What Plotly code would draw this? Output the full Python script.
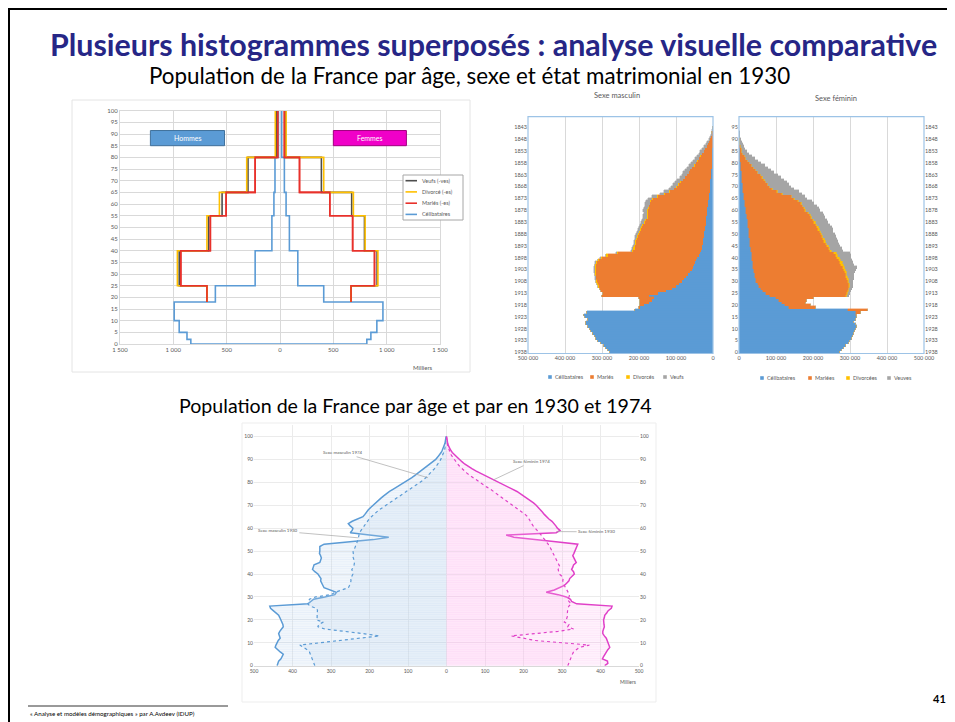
import plotly.graph_objects as go

W, H = 955, 722
OFF = 8  # page body margin offsets the figure by 8 px; compensate in layout positions
def px(x): return (x - OFF) / W
def py(y): return 1 - (y - OFF) / H

# ---------------- Chart 1 data (thousands, 1930, grouped ages) ----------------
c1_bounds = [0, 2, 5, 10, 18, 25, 40, 55, 65, 80, 100]
c1_m_celib = [836, 872, 945, 992, 606, 233, 76, 57, 47, 15]
c1_f_celib = [814, 852, 908, 965, 410, 167, 88, 57, 41, 16]
c1_bounds_ad = [18, 25, 40, 55, 65, 80, 100]
c1_m_maries = [685, 930, 653, 505, 233, 22]
c1_f_maries = [666, 886, 681, 467, 183, 41]
c1_m_veufs = [685, 945, 670, 543, 300, 35]
c1_f_veufs = [666, 910, 792, 672, 388, 52]
c1_m_div = [685, 962, 685, 568, 312, 44]
c1_f_div = [666, 918, 798, 688, 410, 57]
c1_xticks = [-1500, -1000, -500, 0, 500, 1000, 1500]
c1_xlabels = ["1 500", "1 000", "500", "0", "500", "1 000", "1 500"]
c1_names = ["Veufs (-ves)", "Divorcé (-es)", "Mariés (-es)", "Célibataires"]

# ---------------- Chart 2 data (thousands, by single age 0..95) ----------------
ages2 = list(range(96))
m_celib = [279,284,290,295,303,311,316,320,325,330,333,338,344,342,338,345,349,340,
           210,196,186,172,165,160,172,150,128,112,100,92,84,78,72,67,62,58,54,51,48,45,
           42,39,36,32,30,29,28,27,26,25,24,23,22,21,20,19,18,18,17,16,
           15,15,14,14,13,12,11,10,9,9,8,8,7,7,6,6,5,5,4,4,
           4,3,3,3,2,2,2,1,1,1,1,0,0,0,0,0]
m_maries = [0]*18 + [2,4,11,25,31,40,127,147,174,193,208,220,229,237,243,249,255,259,263,264,265,262,
           258,246,220,184,182,181,180,180,179,178,177,175,173,170,168,166,163,159,160,159,
           161,158,158,155,154,150,139,120,108,96,90,85,80,74,69,64,60,56,52,46,
           42,38,34,30,27,23,19,16,12,9,6,5,3,1.5,1,0.5]
m_div = [0]*23 + [0.3,0.5,0.5,1,1,1.5,1.5,2,2,2.5,2.5,2.5,3,3,3,3,3,
           3,3,3,3,3,3,3,3,3,3,3,3,3,3,3,2.5,2.5,2.5,2.5,2.5,
           2,2,2,2,2,2,2,1.5,1.5,1.5,1,1,1,1,1,1,1,1,1,1,
           1,1,1,1,1,0,0,0,0,0,0,0,0,0,0,0]
m_veufs = [0]*25 + [0.3,0.3,0.3,0.4,0.5,0.8,0.8,0.8,0.9,1,1.5,1.5,1.5,1.6,1.8,
           2,2,2.5,2.5,3,3,3.5,4,4,4.5,5,5.5,6,6.5,7,7.5,8,8.5,9,9.5,
           10,10.5,11,11.5,12,12.5,13,13,13,13.5,14,14,14,14,14,14,14,14,13,13,
           12,12,11,10,9,9,8,7,6,5,4,3,2,1.5,1,0.5]
f_celib = [272,278,283,290,296,301,305,308,311,314,316,318,315,312,316,318,
           316,315,295,135,125,115,108,101,83,73,65,59,53,50,47,45,44,42,41,40,39,38,37,36,
           35,34,34,33,32,31,30,30,29,28,27,26,26,25,24,23,23,22,21,20,
           19,18,17,16,15,14,13,13,12,11,11,10,9,9,8,7,7,6,6,5,
           5,4,4,3,3,2,2,1,1,1,0.5,0.3,0.2,0.2,0.1,0.1]
f_maries = [0]*16 + [4,15,54,74,70,65,77,101,207,220,229,237,244,246,247,247,246,246,245,243,242,239,237,234,
           231,228,224,213,210,206,204,201,199,196,194,192,188,186,183,180,176,173,170,167,
           160,158,155,151,145,134,129,103,92,79,72,68,64,59,55,52,44,39,34,29,
           25,21,16,13,9,7,5,4,3,2,1.5,0.7,0.4,0.2,0.1,0]
f_div = [0]*24 + [1,1,2,2,3,3,4,4,5,5,5,6,6,6,6,6,
           6,6,6,5,5,5,5,5,5,4,4,4,4,4,4,4,3,3,3,3,
           3,2,2,2,2,2,2,2,2,1,1,1,1,1,1,1,1,1,1,1,
           1,0,0,0,0,0,0,0,0,0,0,0,0,0,0,0]
f_veufs = [0]*23 + [1,5,6,6,7,7,9,11,14,16,19,23,27,31,29,29,30,
           32,34,36,31,31,31,31,31,31,34,34,33,35,35,34,34,35,34,36,36,
           38,38,36,34,34,34,34,52,55,57,57,56,55,53,49,45,43,41,38,34,
           29,27,24,20,16,12,10,9,7,5,4,3,2.4,1.6,0.8,0.4]
c2_ticks = [0, 100000, 200000, 300000, 400000, 500000]
c2_labels = ["0", "100 000", "200 000", "300 000", "400 000", "500 000"]
m_names = ["Célibataires", "Mariés", "Divorcés", "Veufs"]
f_names = ["Célibataires", "Mariées", "Divorcées", "Veuves"]

# ---------------- Chart 3 data (thousands, ages 0..100) ----------------
ages3 = list(range(101))
m1974 = [440,438,436,430,426,424,432,440,445,443,441,437,432,434,436,433,428,424,425,427,
         430,433,436,442,450,457,459,360,352,345,316,290,286,300,318,321,325,327,326,330,
         334,342,348,346,344,329,326,325,327,330,329,330,329,318,250,190,150,200,250,245,
         243,250,255,245,230,217,212,208,203,197,191,185,178,171,164,157,148,138,128,118,
         108,99,90,82,74,66,58,50,42,35,28,23,18,14,11,8,6,4,3,2,1]
m1930 = [342,344,346,349,351,353,356,362,370,381,329,278,226,174,217,269,316,334,332,320,
         338,336,337,336,335,337,355,360,358,356,340,300,290,270,255,252,250,248,249,246,
         243,244,246,241,239,239,240,242,244,242,243,239,236,234,232,230,229,227,226,222,
         218,214,210,206,201,195,189,182,175,166,157,148,139,130,120,111,102,93,84,75,
         66,60,54,48,42,36,31,27,22,18,15,12,9,7,5,4,3,2,1,1,0]
f1974 = [411,419,418,405,408,411,415,419,424,422,419,417,415,410,406,406,408,410,409,408,
         408,410,411,416,420,428,430,338,325,322,311,290,259,280,295,306,312,318,320,326,
         332,330,325,328,330,337,334,330,328,331,333,335,338,341,290,230,175,155,285,295,
         288,284,280,274,266,259,254,249,244,238,233,226,218,210,202,194,183,171,159,146,
         133,121,110,98,87,76,66,56,47,40,33,26,20,15,11,7,5,3,2,1,0]
f1930 = [315,317,319,322,324,327,330,338,345,371,290,230,200,168,230,290,330,315,318,306,
         311,313,315,314,315,315,318,324,318,315,318,320,316,312,310,306,304,302,303,300,
         293,292,290,295,292,289,287,284,282,279,276,272,268,264,260,255,251,246,241,235,
         229,225,221,217,214,211,204,196,188,180,172,164,156,148,141,133,123,114,104,95,
         85,77,69,61,53,46,40,34,29,24,20,16,12,9,7,5,3,2,1,1,0]
c3_xticks = [-500, -400, -300, -200, -100, 0, 100, 200, 300, 400, 500]
c3_xlabels = ["500", "400", "300", "200", "100", "0", "100", "200", "300", "400", "500"]

# ---------------- colours ----------------
BLUE = "#5B9BD5"; ORANGE = "#ED7D31"; YELLOW = "#FFC000"; GREY = "#A5A5A5"
RED = "#E8312B"; DARK = "#4D4D4D"; PINK = "#E040C8"
TXT = "#595959"; GRID = "#D9D9D9"
FONT = "Lato"

fig = go.Figure()

# ---------- Chart 1 : step lines ----------
def step_xy(bounds, vals, sign):
    xs = [sign * v for v in vals] + [sign * vals[-1]]
    return xs, list(bounds)

k = len(c1_m_celib)
bx = [-c1_m_celib[k - 1]] + [-c1_m_celib[i] for i in range(k - 2, -1, -1)] + list(c1_f_celib) + [c1_f_celib[-1]]
by = [c1_bounds[k]] + [c1_bounds[i + 1] for i in range(k - 2, -1, -1)] + [c1_bounds[i] for i in range(k)] + [c1_bounds[k]]
fig.add_trace(go.Scatter(x=bx, y=by, mode="lines", line=dict(color=BLUE, width=1.6, shape="vh"),
                         name=c1_names[3], xaxis="x", yaxis="y"))
series1 = [(c1_names[2], c1_m_maries, c1_f_maries, RED),
           (c1_names[0], c1_m_veufs, c1_f_veufs, DARK),
           (c1_names[1], c1_m_div, c1_f_div, YELLOW),
           (c1_names[2], c1_m_maries, c1_f_maries, RED)]
for name, mv, fv, col in series1:
    for sgn, vals in ((-1, mv), (1, fv)):
        xs, ys = step_xy(c1_bounds_ad, vals, sgn)
        fig.add_trace(go.Scatter(x=xs, y=ys, mode="lines", line=dict(color=col, width=1.6, shape="vh"),
                                 name=name, xaxis="x", yaxis="y"))

# ---------- Chart 2 : stacked bars ----------
C2_COLS = [BLUE, ORANGE, YELLOW, GREY]
for name, vals, col in zip(m_names, [m_celib, m_maries, m_div, m_veufs], C2_COLS):
    fig.add_trace(go.Bar(y=ages2, x=[v * 1000 for v in vals], orientation="h", name=name,
                         marker=dict(color=col, line=dict(width=0.4, color=col)),
                         xaxis="x2", yaxis="y2"))
for name, vals, col in zip(f_names, [f_celib, f_maries, f_div, f_veufs], C2_COLS):
    fig.add_trace(go.Bar(y=ages2, x=[v * 1000 for v in vals], orientation="h", name=name,
                         marker=dict(color=col, line=dict(width=0.4, color=col)),
                         xaxis="x3", yaxis="y3"))
fig.add_trace(go.Scatter(x=[0, 0], y=[0, 95], mode="markers", marker=dict(opacity=0),
                         hoverinfo="skip", xaxis="x3", yaxis="y4"))

# ---------- Chart 3 : pyramid 1930 / 1974 ----------
fill_m = "rgba(189,215,238,0.22)"
fill_f = "rgba(255,190,240,0.22)"
pat_m = dict(shape="-", size=2.3, solidity=0.25, fgcolor="rgba(91,155,213,0.22)")
pat_f = dict(shape="-", size=2.3, solidity=0.25, fgcolor="rgba(224,64,200,0.15)")
fig.add_trace(go.Scatter(x=[-v for v in m1974], y=ages3, mode="lines", fill="tozerox", fillcolor=fill_m,
                         fillpattern=pat_m,
                         line=dict(color=BLUE, width=1.5), name="Sexe masculin 1974", xaxis="x5", yaxis="y5"))
fig.add_trace(go.Scatter(x=[-v for v in m1930], y=ages3, mode="lines", fill="tozerox", fillcolor=fill_m,
                         line=dict(color=BLUE, width=1.2, dash="dot"), name="Sexe masculin 1930", xaxis="x5", yaxis="y5"))
fig.add_trace(go.Scatter(x=f1974, y=ages3, mode="lines", fill="tozerox", fillcolor=fill_f,
                         fillpattern=pat_f,
                         line=dict(color=PINK, width=1.5), name="Sexe féminin 1974", xaxis="x5", yaxis="y5"))
fig.add_trace(go.Scatter(x=f1930, y=ages3, mode="lines", fill="tozerox", fillcolor=fill_f,
                         line=dict(color=PINK, width=1.2, dash="dot"), name="Sexe féminin 1930", xaxis="x5", yaxis="y5"))
fig.add_trace(go.Scatter(x=[0, 0], y=[0, 100], mode="markers", marker=dict(opacity=0),
                         hoverinfo="skip", xaxis="x5", yaxis="y6"))

tickf = dict(family=FONT, size=6, color=TXT)
tickf2 = dict(family=FONT, size=5.5, color=TXT)
tickf3 = dict(family=FONT, size=5, color=TXT)
ages_ticks = list(range(0, 96, 5))
years_text = [str(1938 - a) for a in ages_ticks]
y2dom = [py(353.5), py(116.7)]

fig.update_layout(
    width=W, height=H, margin=dict(l=0, r=0, t=0, b=0, autoexpand=False),
    paper_bgcolor="white", plot_bgcolor="white", showlegend=False,
    font=dict(family=FONT, color=TXT),
    barmode="stack", bargap=0,
    xaxis=dict(domain=[px(120), px(440)], range=[-1500, 1500], tickvals=c1_xticks, ticktext=c1_xlabels,
               showgrid=True, gridcolor=GRID, zeroline=False, showline=True, mirror=True, linecolor=GRID,
               tickfont=tickf, anchor="y", ticks=""),
    yaxis=dict(domain=[py(344), py(110.7)], range=[0, 100], dtick=5, showgrid=True, gridcolor=GRID,
               zeroline=False, showline=True, mirror=True, linecolor=GRID, tickfont=tickf, anchor="x", ticks=""),
    xaxis2=dict(domain=[px(528), px(713)], range=[500000, 0], tickvals=c2_ticks, ticktext=c2_labels,
                showgrid=True, gridcolor=GRID, zeroline=False, tickfont=tickf2, anchor="y2", ticks=""),
    yaxis2=dict(domain=y2dom, range=[-0.5, 99.5], tickvals=ages_ticks, ticktext=years_text, showgrid=False,
                zeroline=False, tickfont=tickf2, anchor="x2", ticks=""),
    xaxis3=dict(domain=[px(739), px(924)], range=[0, 500000], tickvals=c2_ticks, ticktext=c2_labels,
                showgrid=True, gridcolor=GRID, zeroline=False, tickfont=tickf2, anchor="y3", ticks=""),
    yaxis3=dict(domain=y2dom, range=[-0.5, 99.5], tickvals=ages_ticks, ticktext=[str(a) for a in ages_ticks],
                showgrid=False, zeroline=False, tickfont=tickf2, anchor="x3", ticks=""),
    yaxis4=dict(domain=y2dom, range=[-0.5, 99.5], tickvals=ages_ticks, ticktext=years_text, showgrid=False,
                zeroline=False, tickfont=tickf2, anchor="x3", overlaying="y3", side="right", ticks=""),
    xaxis5=dict(domain=[px(254), px(639)], range=[-500, 500], tickvals=c3_xticks, ticktext=c3_xlabels,
                showgrid=True, gridcolor="#EBEBEB", zeroline=False, tickfont=tickf3, anchor="y5", ticks="",
                showline=True, linecolor=GRID),
    yaxis5=dict(domain=[py(665.7), py(425)], range=[0, 105], tickvals=list(range(0, 101, 10)), showgrid=True,
                gridcolor="#EBEBEB", zeroline=False, tickfont=tickf3, anchor="x5", ticks=""),
    yaxis6=dict(domain=[py(665.7), py(425)], range=[0, 105], tickvals=list(range(0, 101, 10)), showgrid=False,
                zeroline=False, tickfont=tickf3, anchor="x5", overlaying="y5", side="right", ticks=""),
)

shapes = []
ann = []
def txt(x, y, s, size, color="black", bold=False, xanchor="center", family=FONT):
    ann.append(dict(x=px(x), y=py(y), xref="paper", yref="paper", text=("<b>%s</b>" % s) if bold else s,
                    showarrow=False, xanchor=xanchor, yanchor="middle",
                    font=dict(family=family, size=size, color=color)))

# slide border (top and left) -- drawn at the very edge of the figure
shapes.append(dict(type="line", xref="paper", yref="paper", x0=0, x1=1, y0=py(9), y1=py(9),
                   line=dict(color="black", width=2)))
shapes.append(dict(type="line", xref="paper", yref="paper", x0=px(9), x1=px(9), y0=py(8), y1=0,
                   line=dict(color="black", width=2)))
# chart containers
shapes.append(dict(type="rect", xref="paper", yref="paper", x0=px(72), x1=px(470), y0=py(372), y1=py(100),
                   line=dict(color="#E4E4E4", width=1)))
shapes.append(dict(type="rect", xref="paper", yref="paper", x0=px(242), x1=px(656), y0=py(702), y1=py(423),
                   line=dict(color="#EDEDED", width=1)))
for x0, x1 in ((528, 713), (739, 924)):
    shapes.append(dict(type="rect", xref="paper", yref="paper", x0=px(x0), x1=px(x1), y0=py(353.5), y1=py(116.7),
                       line=dict(color="#9DC3E6", width=1.2)))
# Hommes / Femmes boxes
shapes.append(dict(type="rect", xref="x", yref="y", x0=-1215, x1=-520, y0=85, y1=91.5,
                   fillcolor=BLUE, line=dict(color="#41719C", width=1)))
shapes.append(dict(type="rect", xref="x", yref="y", x0=500, x1=1185, y0=85, y1=91.5,
                   fillcolor="#F000C8", line=dict(color="#A0007E", width=1)))
ann.append(dict(x=-867, y=88.2, xref="x", yref="y", text="Hommes", showarrow=False,
                font=dict(family=FONT, size=7, color="white")))
ann.append(dict(x=842, y=88.2, xref="x", yref="y", text="Femmes", showarrow=False,
                font=dict(family=FONT, size=7, color="white")))

# chart 1 legend (box + line samples + labels)
shapes.append(dict(type="rect", xref="paper", yref="paper", x0=px(403), x1=px(463), y0=py(220), y1=py(175),
                   fillcolor="white", line=dict(color="#A6A6A6", width=1)))
for (name, col, yy) in zip(c1_names, [DARK, YELLOW, RED, BLUE], [180.7, 191.9, 203.2, 214.4]):
    shapes.append(dict(type="line", xref="paper", yref="paper", x0=px(405.5), x1=px(417), y0=py(yy), y1=py(yy),
                       line=dict(color=col, width=1.6)))
    txt(420, yy, name, 5.5, TXT, xanchor="left")

# chart 2 legends
def square_legend(names, xs, yy):
    for name, col, x0 in zip(names, C2_COLS, xs):
        shapes.append(dict(type="rect", xref="paper", yref="paper", x0=px(x0 - 1.8), x1=px(x0 + 1.8),
                           y0=py(yy + 1.8), y1=py(yy - 1.8), fillcolor=col, line=dict(width=0)))
        txt(x0 + 3.2, yy, name, 5.5, TXT, xanchor="left")
square_legend(m_names, [550, 592, 628, 665], 377)
square_legend(f_names, [762, 810, 848, 889], 378)

# footer rule
shapes.append(dict(type="line", xref="paper", yref="paper", x0=px(28), x1=px(228), y0=py(706), y1=py(706),
                   line=dict(color="black", width=0.8)))

txt(493, 44, "Plusieurs histogrammes superposés : analyse visuelle comparative", 30.4, "#262686", bold=True)
txt(469, 75, "Population de la France par âge, sexe et état matrimonial en 1930", 22.4, "black")
txt(415, 405, "Population de la France par âge et par en 1930 et 1974", 19.6, "black")
txt(617, 96, "Sexe masculin", 7.5, TXT)
txt(836, 98, "Sexe féminin", 7.5, TXT)
txt(423, 367, "Milliers", 6, TXT)
txt(628, 682, "Milliers", 5, TXT)
txt(28, 713, "« Analyse et modèles démographiques » par A.Avdeev (IDUP)", 6.2, "black", xanchor="left")
txt(939, 698, "41", 11, "black", bold=True)

for (tx, ty, ex, ey, s) in ((-269, 92.9, -48, 82, "Sexe masculin 1974"),
                            (-438, 58.8, -230, 55.8, "Sexe masculin 1930"),
                            (222, 89, 121, 81, "Sexe féminin 1974"),
                            (390, 58.4, 286, 58.5, "Sexe féminin 1930")):
    ann.append(dict(x=ex, y=ey, xref="x5", yref="y5", ax=tx, ay=ty, axref="x5", ayref="y5",
                    text=s, showarrow=True, arrowhead=0, arrowwidth=0.7, arrowcolor="#A6A6A6",
                    font=dict(family=FONT, size=4.5, color=TXT)))

fig.update_layout(shapes=shapes, annotations=ann)
fig.write_html("out.html")
